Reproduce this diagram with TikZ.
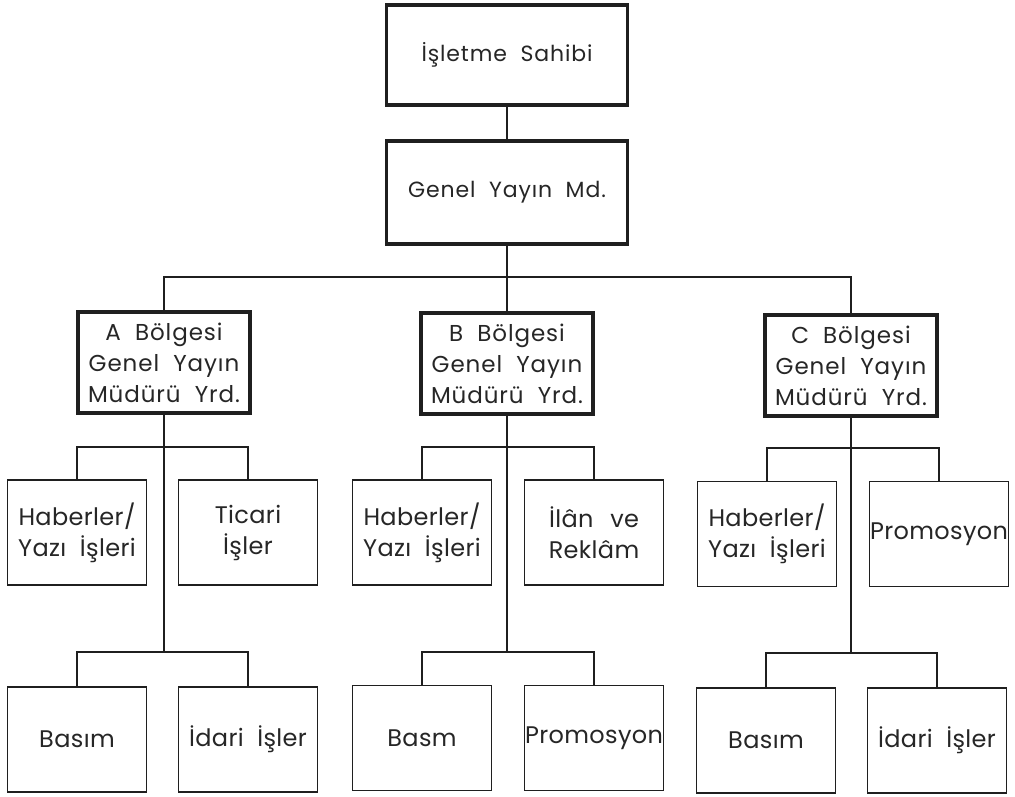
\documentclass[tikz,border=0pt]{standalone}
\usepackage{fontspec}
\setmainfont{Poppins}[LetterSpace=4, WordSpace=2]
\begin{document}
\begin{tikzpicture}[x=1pt,y=-1pt,
  ink/.style={draw=black!88, line width=#1},
  headbox/.style={ink=3.2pt, rectangle, inner sep=0pt, align=center,
    font=\fontsize{22}{26}\selectfont, text=black!85},
  regionbox/.style={ink=3.2pt, rectangle, inner sep=0pt, align=center,
    minimum width=172, minimum height=101,
    font=\fontsize{23}{31}\selectfont, text=black!85},
  unitbox/.style={ink=1.6pt, rectangle, inner sep=0pt, align=center,
    minimum width=139, minimum height=105,
    font=\fontsize{24}{31}\selectfont\addfontfeatures{LetterSpace=1.5},
    text=black!85},
  link/.style={draw=black!88, line width=1.6pt}]
\useasboundingbox (0,0) rectangle (1015,796);

% top of the hierarchy
\node[headbox, minimum width=241, minimum height=100] (owner) at (507,55) {İşletme Sahibi};
\node[headbox, minimum width=241, minimum height=103] (gym) at (507,192.5) {Genel Yayın Md.};

% regional deputies
\node[regionbox] (ra) at (164,362.5) {A Bölgesi\\Genel Yayın\\Müdürü Yrd.};
\node[regionbox] (rb) at (507,363.5) {B Bölgesi\\Genel Yayın\\Müdürü Yrd.};
\node[regionbox] (rc) at (851,365.5) {C Bölgesi\\Genel Yayın\\Müdürü Yrd.};

% first row of units
\node[unitbox] (a1) at (77,532.5) {Haberler/\\Yazı İşleri};
\node[unitbox] (a2) at (248,532.5) {Ticari\\İşler};
\node[unitbox] (b1) at (422,532.5) {Haberler/\\Yazı İşleri};
\node[unitbox] (b2) at (594,532.5) {İlân\hspace{0.7em}ve\\Reklâm};
\node[unitbox] (c1) at (767,534) {Haberler/\\Yazı İşleri};
\node[unitbox] (c2) at (939,534) {Promosyon};

% second row of units
\node[unitbox] (a3) at (77,739.5) {Basım};
\node[unitbox] (a4) at (248,739.5) {İdari İşler};
\node[unitbox] (b3) at (422,738) {Basm};
\node[unitbox] (b4) at (594,738) {Promosyon};
\node[unitbox] (c3) at (766,740.5) {Basım};
\node[unitbox] (c4) at (937,740.5) {İdari İşler};

% junction points
\coordinate (bus) at (507,277);
\coordinate (ja1) at (164,447);
\coordinate (ja2) at (164,652);
\coordinate (jb1) at (507,447);
\coordinate (jb2) at (507,652);
\coordinate (jc1) at (851,448);
\coordinate (jc2) at (851,653);

% connectors
\draw[link] (owner) -- (gym);
\draw[link] (gym) -- (bus) -- (rb);
\draw[link] (ra.north) |- (bus) -| (rc.north);

\draw[link] (ra) -- (ja2);
\draw[link] (a1.north) |- (ja1) -| (a2.north);
\draw[link] (a3.north) |- (ja2) -| (a4.north);

\draw[link] (rb) -- (jb2);
\draw[link] (b1.north) |- (jb1) -| (b2.north);
\draw[link] (b3.north) |- (jb2) -| (b4.north);

\draw[link] (rc) -- (jc2);
\draw[link] (c1.north) |- (jc1) -| (c2.north);
\draw[link] (c3.north) |- (jc2) -| (c4.north);
\end{tikzpicture}
\end{document}
